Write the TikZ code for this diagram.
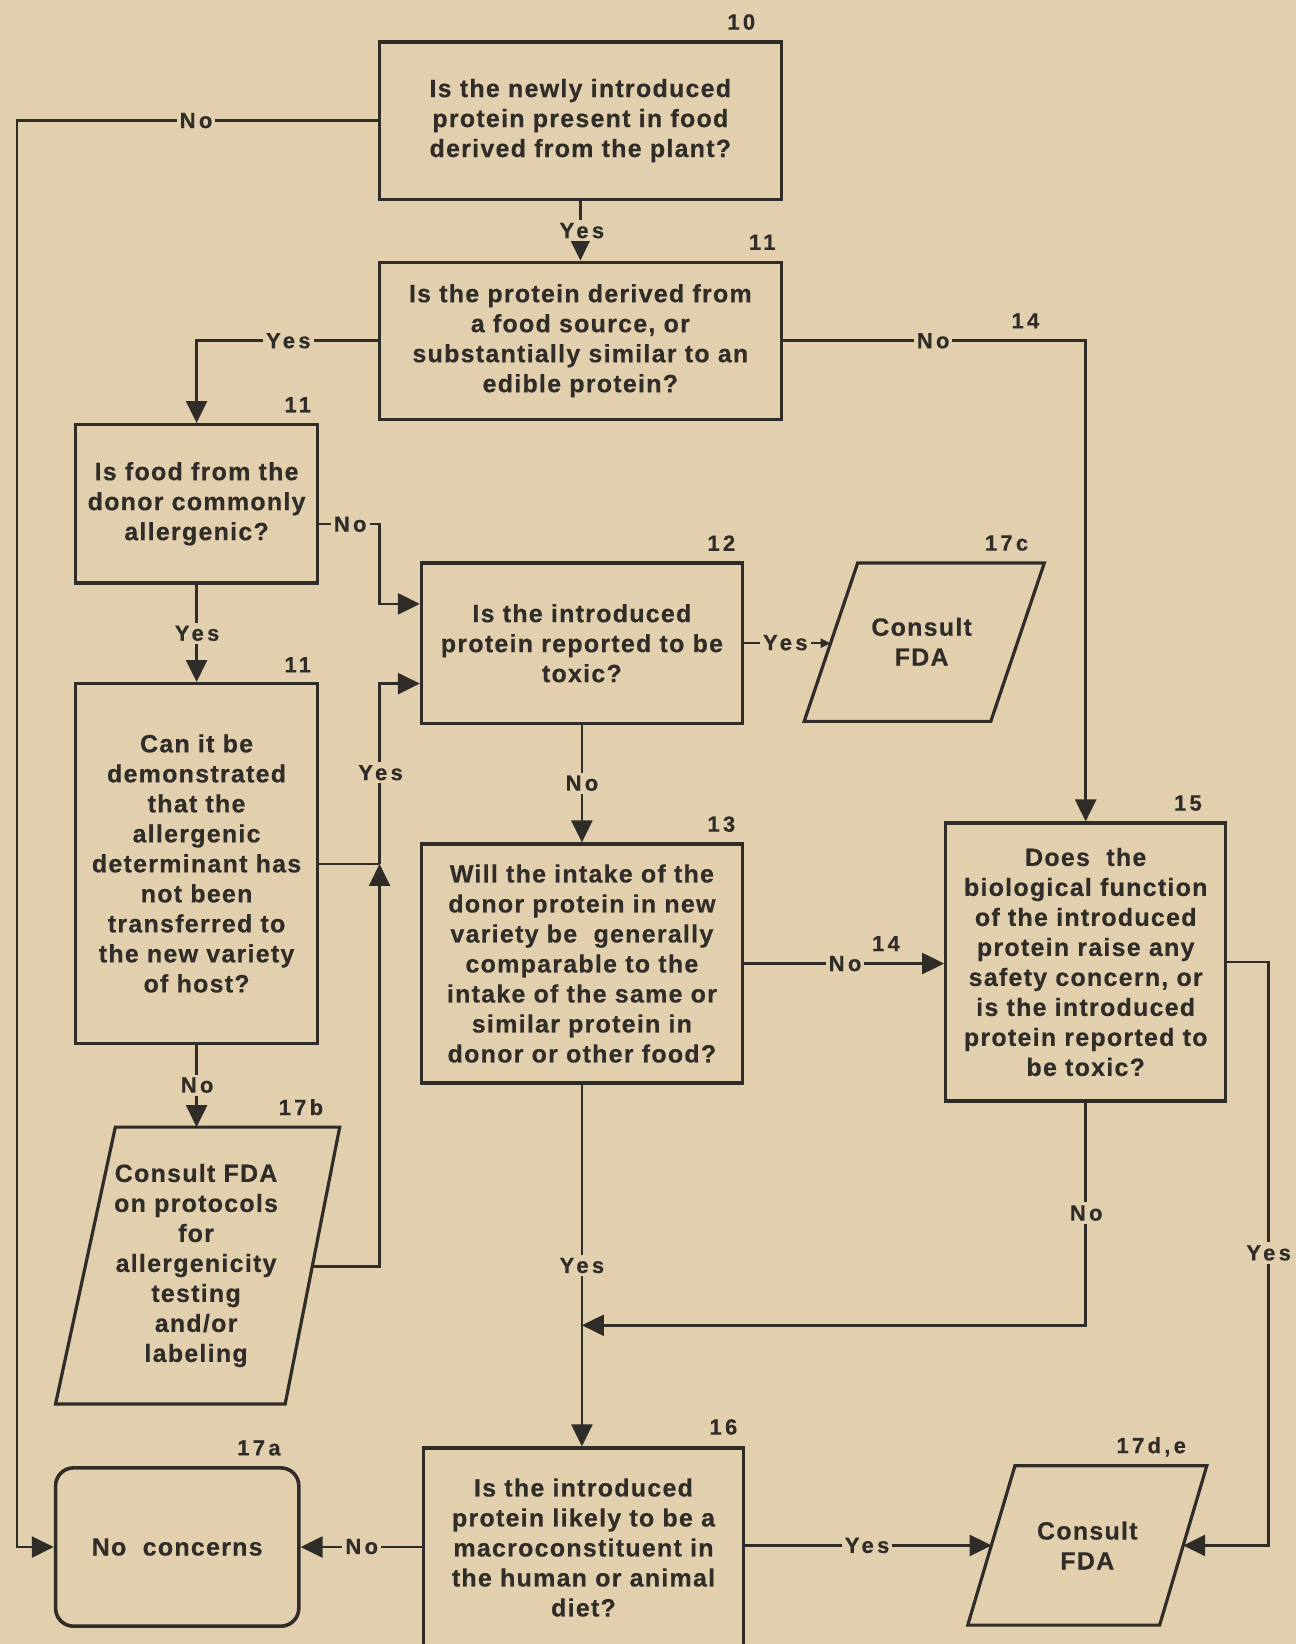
\documentclass[tikz,border=0pt]{standalone}
\usepackage{fontspec}
\setmainfont{Liberation Sans}[LetterSpace=5, BoldFeatures={FakeBold=0.4}]
\newfontfamily\labfont{Liberation Sans}[LetterSpace=15, BoldFeatures={FakeBold=0.4}]
\usetikzlibrary{arrows.meta}
\definecolor{paper}{HTML}{E2CFAE}
\definecolor{ink}{HTML}{302C28}
\newcommand{\pxu}{0.52427pt}
\begin{document}
\begin{tikzpicture}[x=0.52427pt,y=-0.52427pt,
  box/.style={draw=ink, line width=1.6pt, align=center, inner sep=0pt, text=ink,
    font=\bfseries\fontsize{12.5}{15}\selectfont},
  txt/.style={align=center, inner sep=0pt, text=ink, font=\bfseries\fontsize{12.5}{15}\selectfont},
  pgram/.style={draw=ink, line width=1.6pt, line join=miter},
  conn/.style={draw=ink, line width=1.25pt},
  arr/.style={conn, -{Triangle[length=11pt,width=10.5pt]}},
  lab/.style={fill=paper, inner sep=1.5pt, text=ink, font=\labfont\bfseries\fontsize{11}{12}\selectfont},
  num/.style={inner sep=0pt, text=ink, font=\labfont\bfseries\fontsize{11}{12}\selectfont},
]
\fill[paper] (0,0) rectangle (1236,1568);
\useasboundingbox (0,0) rectangle (1236,1568);

% boxes
\node[box, minimum width={383*\pxu}, minimum height={150*\pxu}] (b10) at (553.5,115)
  {Is the newly introduced\\protein present in food\\derived from the plant?};
\node[box, minimum width={383*\pxu}, minimum height={150*\pxu}] (b11) at (553.5,325)
  {Is the protein derived from\\a food source, or\\substantially similar to an\\edible protein?};
\node[box, minimum width={231*\pxu}, minimum height={151*\pxu}] (b11b) at (187.5,480.5)
  {Is food from the\\donor commonly\\allergenic?};
\node[box, minimum width={231*\pxu}, minimum height={343*\pxu}] (b11c) at (187.5,823.5)
  {Can it be\\demonstrated\\that the\\allergenic\\determinant has\\not been\\transferred to\\the new variety\\of host?};
\node[box, minimum width={306*\pxu}, minimum height={153*\pxu}] (b12) at (555,613.5)
  {Is the introduced\\protein reported to be\\toxic?};
\node[box, minimum width={306*\pxu}, minimum height={228*\pxu}] (b13) at (555,919)
  {Will the intake of the\\donor protein in new\\variety be \ generally\\comparable to the\\intake of the same or\\similar protein in\\donor or other food?};
\node[box, minimum width={267*\pxu}, minimum height={265*\pxu}] (b15) at (1035.5,917.5)
  {Does \ the\\biological function\\of the introduced\\protein raise any\\safety concern, or\\is the introduced\\protein reported to\\be toxic?};
\node[box, minimum width={305*\pxu}, minimum height={190*\pxu}] (b16) at (556.5,1476)
  {Is the introduced\\protein likely to be a\\macroconstituent in\\the human or animal\\diet?};
\node[box, line width=1.8pt, rounded corners=9pt, minimum width={232*\pxu}, minimum height={151*\pxu}] (nc) at (169,1475.5)
  {No \ concerns};

% parallelograms
\draw[pgram] (818,537) -- (996,537) -- (945,688) -- (767,688) -- cycle;
\node[txt] (p17c) at (879,612) {Consult\\FDA};
\draw[pgram] (110,1075) -- (324,1075) -- (272,1339) -- (53,1339) -- cycle;
\node[txt] (p17b) at (187,1207) {Consult FDA\\on protocols\\for\\allergenicity\\testing\\and/or\\labeling};
\draw[pgram] (968,1398) -- (1151,1398) -- (1106,1550) -- (923,1550) -- cycle;
\node[txt] (p17de) at (1037,1474) {Consult\\FDA};

\coordinate (p17c-in) at (792.2,613.5);
\coordinate (p17b-top) at (187.5,1075);
\coordinate (p17b-out) at (297.8,1208);
\coordinate (p17de-l) at (945.8,1474);
\coordinate (p17de-r) at (1128.5,1474);

% junction coordinates
\coordinate (Lx) at (16,0);
\coordinate (j1) at (362,500);
\coordinate (j2) at (362,576);
\coordinate (j3) at (362,824);
\coordinate (j4) at (362,652);
\coordinate (j5) at (1210,0);
\coordinate (j6) at (555,1264);

% connectors
\draw[arr] (b10.west) -- (b10.west -| Lx) -- (Lx |- nc.west) -- (nc.west);
\draw[arr] (b10.south) -- (b11.north);
\draw[arr] (b11.west) -| (b11b.north);
\draw[arr] (b11.east) -| (b15.north);
\draw[arr] (b11b.east |- j1) -- (j1) -- (j2) -- (b12.west |- j2);
\draw[arr] (b11b.south) -- (b11c.north);
\draw[conn] (b11c.east |- j3) -- (j3);
\draw[arr] (p17b-out) -| (j3);
\draw[arr] (j3) -- (j4) -- (b12.west |- j4);
\draw[arr] (b11c.south) -- (p17b-top);
\draw[conn, -{Triangle[length=5pt,width=4.5pt]}] (b12.east) -- (p17c-in);
\draw[arr] (b12.south) -- (b13.north);
\draw[arr] (b13.east) -- (b15.west |- b13.east);
\draw[arr] (b15.east) -- (b15.east -| j5) |- (p17de-r);
\draw[arr] (b15.south) |- (j6);
\draw[arr] (b13.south) -- (b13.south |- b16.north);
\draw[arr] (b16.west |- nc.east) -- (nc.east);
\draw[arr] (b16.east |- p17de-l) -- (p17de-l);

% connector labels
\node[lab] (l1) at (187,115) {No};
\node[lab] (l2) at (555,220) {Yes};
\node[lab] (l3) at (275,325) {Yes};
\node[lab] (l4) at (890,325) {No};
\node[lab] (l5) at (334,500) {No};
\node[lab] (l6) at (188,604) {Yes};
\node[lab] (l7) at (363,737) {Yes};
\node[lab] (l8) at (188,1035) {No};
\node[lab] (l9) at (749,613) {Yes};
\node[lab] (l10) at (555,747) {No};
\node[lab] (l11) at (806,919) {No};
\node[lab] (l12) at (1210,1195) {Yes};
\node[lab] (l13) at (1036,1157) {No};
\node[lab] (l14) at (555,1207) {Yes};
\node[lab] (l15) at (345,1475) {No};
\node[lab] (l16) at (827,1474) {Yes};

% step numbers
\node[num] (n10) at (707,21) {10};
\node[num] (n11a) at (727,231) {11};
\node[num] (n11b) at (284,386) {11};
\node[num] (n12) at (688,518) {12};
\node[num] (n17c) at (960,518) {17c};
\node[num] (n11c) at (284,634) {11};
\node[num] (n13) at (688,786) {13};
\node[num] (n14a) at (978,306) {14};
\node[num] (n14b) at (845,900) {14};
\node[num] (n15) at (1133,766) {15};
\node[num] (n17b) at (287,1056) {17b};
\node[num] (n16) at (690,1361) {16};
\node[num] (n17a) at (247,1381) {17a};
\node[num] (n17de) at (1098,1380) {17d,e};
\end{tikzpicture}
\end{document}
